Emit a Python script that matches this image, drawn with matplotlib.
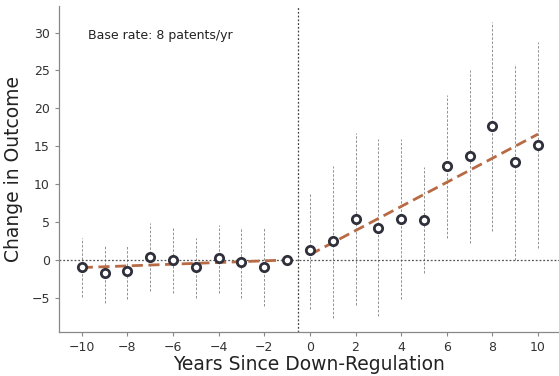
import numpy as np
import matplotlib.pyplot as plt

years = list(range(-10, 11))
effect = [-0.9, -1.7, -1.4, 0.4, 0.0, -0.9, 0.3, -0.2, -0.9, 0.0,
          1.3, 2.5, 5.4, 4.2, 5.4, 5.3, 12.4, 13.7, 17.7, 12.9, 15.2]
ci_low = [-4.9, -5.7, -5.2, -4.1, -4.4, -5.0, -4.3, -5.0, -6.1, 0.0,
          -6.5, -7.7, -6.0, -7.4, -5.2, -1.7, 2.9, 2.2, 3.8, 0.0, 1.6]
ci_high = [2.9, 2.0, 2.0, 4.9, 4.3, 2.9, 4.6, 4.4, 4.2, 0.0,
           8.9, 12.4, 16.8, 15.9, 15.9, 12.3, 21.7, 25.1, 31.4, 25.8, 28.7]

# fitted trends before / after the event
pre_x = [-10, -1]
pre_y = [-1.0, 0.0]
post_x = [0, 10]
post_y = [0.7, 16.6]

base_rate = 8

fig = plt.figure(figsize=(5.59, 3.76), dpi=100)
ax = fig.add_axes([0.1055, 0.117, 0.8945, 0.867])

# confidence intervals
for x, lo, hi in zip(years, ci_low, ci_high):
    if lo == hi:
        continue
    ax.plot([x, x], [lo, hi], color='#808080', lw=0.6, ls=(0, (3, 2)), zorder=1)

ax.axhline(0, color='#555555', lw=0.9, ls=(0, (1.5, 1.5)), zorder=1)
ax.axvline(-0.5, color='#444444', lw=0.9, ls=(0, (1.5, 1.5)), zorder=1)

ax.plot(pre_x, pre_y, color='#b86a45', lw=2.0, ls=(0, (4, 2)), zorder=2)
ax.plot(post_x, post_y, color='#b86a45', lw=2.0, ls=(0, (4, 2)), zorder=2)

ax.plot(years, effect, 'o', ms=6, mfc='white', mec='#30303c', mew=2.0, zorder=3)

ax.text(0.058, 0.9, f'Base rate: {base_rate} patents/yr', transform=ax.transAxes,
        fontsize=9, color='#222222')

ax.set_xlim(-11, 10.92)
ax.set_ylim(-9.5, 33.5)
ax.set_xticks(range(-10, 11, 2))
ax.set_yticks(range(-5, 31, 5))

ax.set_xlabel('Years Since Down-Regulation', fontsize=13.5, color='#222222', labelpad=1)
ax.set_ylabel('Change in Outcome', fontsize=13.5, color='#222222', labelpad=6)

for side in ['top', 'right']:
    ax.spines[side].set_visible(False)
for side in ['left', 'bottom']:
    ax.spines[side].set_color('#888888')
    ax.spines[side].set_linewidth(0.9)
ax.tick_params(colors='#888888', labelcolor='#333333', labelsize=9, length=3, width=0.8)

fig.savefig('out.png', dpi=100)
